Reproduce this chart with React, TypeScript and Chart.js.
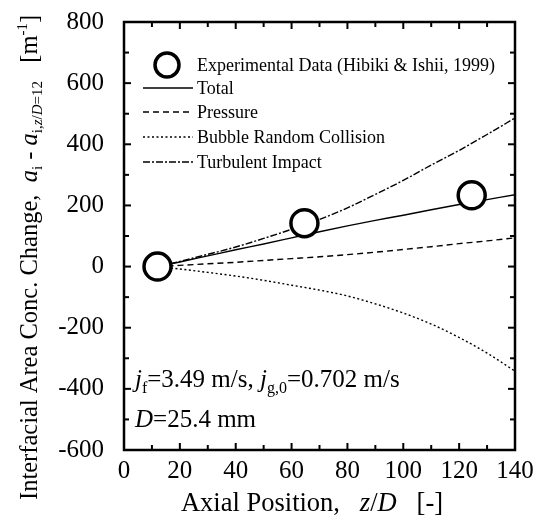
import React, { useEffect, useRef } from "react";
import { Chart, registerables } from "chart.js";

Chart.register(...registerables);

// ---- data ----
const zPositions = [12, 20, 30, 40, 50, 60, 70, 80, 90, 100, 110, 120, 130, 140];
const totalChange = [0, 15, 35, 55, 74, 94, 114, 133, 151, 168, 186, 203, 219, 235];
const pressureChange = [0, 4, 9, 14, 20, 26, 32, 39, 47, 56, 65, 75, 84, 94];
const collisionChange = [0, -8, -19, -31, -45, -61, -77, -96, -122, -152, -188, -232, -283, -342];
const turbulentChange = [0, 17, 40, 64, 92, 122, 154, 192, 236, 282, 332, 380, 432, 486];
const expZ = [12, 64.6, 124.5];
const expChange = [0, 142, 233];

const xTickLabels = [0, 20, 40, 60, 80, 100, 120, 140];
const yTickLabels = [-600, -400, -200, 0, 200, 400, 600, 800];
const xTickMarks = [0, 10, 20, 30, 40, 50, 60, 70, 80, 90, 100, 110, 120, 130, 140];
const yTickMarks = [-600, -500, -400, -300, -200, -100, 0, 100, 200, 300, 400, 500, 600, 700, 800];

const legendLabels = [
  "Experimental Data (Hibiki & Ishii, 1999)",
  "Total",
  "Pressure",
  "Bubble Random Collision",
  "Turbulent Impact",
];

const SERIF = "'Liberation Serif', 'Times New Roman', serif";

const DASH_PRESSURE = [6, 4];
const DASH_COLLISION = [2, 2.5];
const DASH_TURB = [7, 2, 2, 2];

type Seg = { t: string; it?: boolean; sub?: boolean; sup?: boolean };

function segFont(s: Seg, base: number) {
  const size = s.sub || s.sup ? Math.round(base * 0.62) : base;
  return `${s.it ? "italic " : ""}${size}px ${SERIF}`;
}

function richWidth(ctx: CanvasRenderingContext2D, segs: Seg[], base: number) {
  let w = 0;
  for (const s of segs) {
    ctx.font = segFont(s, base);
    w += ctx.measureText(s.t).width;
  }
  return w;
}

function drawRich(ctx: CanvasRenderingContext2D, segs: Seg[], x: number, y: number, base: number) {
  let cx = x;
  ctx.textBaseline = "alphabetic";
  ctx.textAlign = "left";
  for (const s of segs) {
    ctx.font = segFont(s, base);
    const dy = s.sub ? base * 0.22 : s.sup ? -base * 0.42 : 0;
    ctx.fillText(s.t, cx, y + dy);
    cx += ctx.measureText(s.t).width;
  }
}

const yTitle: Seg[] = [
  { t: "Interfacial Area Conc. Change,  " },
  { t: "a", it: true },
  { t: "i", sub: true },
  { t: " - " },
  { t: "a", it: true },
  { t: "i,", sub: true },
  { t: "z", sub: true, it: true },
  { t: "/", sub: true },
  { t: "D", sub: true, it: true },
  { t: "=12", sub: true },
  { t: "   [m" },
  { t: "-1", sup: true },
  { t: "]" },
];

const xTitle: Seg[] = [
  { t: "Axial Position,   " },
  { t: "z", it: true },
  { t: "/" },
  { t: "D", it: true },
  { t: "   [-]" },
];

const note1: Seg[] = [
  { t: "j", it: true },
  { t: "f", sub: true },
  { t: "=3.49 m/s, " },
  { t: "j", it: true },
  { t: "g,0", sub: true },
  { t: "=0.702 m/s" },
];
const note2: Seg[] = [{ t: "D", it: true }, { t: "=25.4 mm" }];

const decorPlugin = {
  id: "decor",
  afterDraw(chart: any) {
    const { ctx, chartArea: a, scales } = chart;
    const xs = scales.x;
    const ys = scales.y;
    ctx.save();
    ctx.fillStyle = "#000";
    ctx.strokeStyle = "#000";

    // frame
    ctx.lineWidth = 2.5;
    ctx.setLineDash([]);
    ctx.strokeRect(a.left, a.top, a.right - a.left, a.bottom - a.top);

    // inward ticks on all four sides
    ctx.lineWidth = 2;
    const seg = (x1: number, y1: number, x2: number, y2: number) => {
      ctx.beginPath();
      ctx.moveTo(x1, y1);
      ctx.lineTo(x2, y2);
      ctx.stroke();
    };
    for (const v of xTickMarks) {
      const px = xs.getPixelForValue(v);
      const len = xTickLabels.includes(v) ? 7 : 5;
      seg(px, a.bottom, px, a.bottom - len);
      seg(px, a.top, px, a.top + len);
    }
    for (const v of yTickMarks) {
      const py = ys.getPixelForValue(v);
      const len = yTickLabels.includes(v) ? 7 : 5;
      seg(a.left, py, a.left + len, py);
      seg(a.right, py, a.right - len, py);
    }

    // legend
    const lx1 = 143;
    const lx2 = 193;
    const tx = 197;
    const rows = [65, 88, 112, 137, 162];
    ctx.font = `18px ${SERIF}`;
    ctx.textBaseline = "middle";
    ctx.textAlign = "left";
    ctx.lineWidth = 3.5;
    ctx.beginPath();
    ctx.arc(167, rows[0], 12, 0, Math.PI * 2);
    ctx.fillStyle = "#fff";
    ctx.fill();
    ctx.stroke();
    ctx.fillStyle = "#000";
    ctx.fillText(legendLabels[0], tx, rows[0] + 1);
    const dashes = [[], DASH_PRESSURE, DASH_COLLISION, DASH_TURB];
    for (let i = 1; i < 5; i++) {
      ctx.lineWidth = 1.4;
      ctx.setLineDash(dashes[i - 1]);
      seg(lx1, rows[i], lx2, rows[i]);
      ctx.setLineDash([]);
      ctx.fillText(legendLabels[i], tx, rows[i] + 1);
    }

    // annotation
    drawRich(ctx, note1, 135, 387, 25);
    drawRich(ctx, note2, 135, 427, 25);

    // x title
    const xw = richWidth(ctx, xTitle, 26.5);
    drawRich(ctx, xTitle, 312 - xw / 2, 511, 26.5);

    // y title (rotated)
    ctx.save();
    ctx.translate(37, 500);
    ctx.rotate(-Math.PI / 2);
    drawRich(ctx, yTitle, 0, 0, 24.5);
    ctx.restore();

    ctx.restore();
  },
};

function toPoints(xs: number[], ys: number[]) {
  return xs.map((x, i) => ({ x, y: ys[i] }));
}

export default function App() {
  const ref = useRef<HTMLCanvasElement>(null);
  useEffect(() => {
    document.body.style.margin = "0";
    const canvas = ref.current!;
    const lineBase = {
      type: "line" as const,
      pointRadius: 0,
      borderColor: "#000",
      borderWidth: 1.4,
      fill: false,
      cubicInterpolationMode: "monotone" as const,
    };
    const chart = new Chart(canvas, {
      type: "line",
      data: {
        datasets: [
          {
            type: "scatter",
            label: legendLabels[0],
            data: toPoints(expZ, expChange),
            pointRadius: 13.5,
            pointBorderWidth: 3.5,
            pointBackgroundColor: "#fff",
            pointBorderColor: "#000",
            showLine: false,
            clip: false,
          } as any,
          { ...lineBase, label: legendLabels[1], data: toPoints(zPositions, totalChange) },
          { ...lineBase, label: legendLabels[2], data: toPoints(zPositions, pressureChange), borderDash: DASH_PRESSURE },
          { ...lineBase, label: legendLabels[3], data: toPoints(zPositions, collisionChange), borderDash: DASH_COLLISION },
          { ...lineBase, label: legendLabels[4], data: toPoints(zPositions, turbulentChange), borderDash: DASH_TURB },
        ],
      },
      options: {
        animation: false,
        responsive: true,
        maintainAspectRatio: false,
        layout: { padding: { left: 0, top: 22, right: 24, bottom: 0 } },
        plugins: { legend: { display: false }, tooltip: { enabled: false } },
        scales: {
          x: {
            type: "linear",
            min: 0,
            max: 140,
            afterBuildTicks: (s: any) => {
              s.ticks = xTickLabels.map((v) => ({ value: v }));
            },
            afterFit: (s: any) => {
              s.height = 72;
              s.paddingLeft = 0;
              s.paddingRight = 0;
            },
            grid: { display: false, drawTicks: false },
            border: { display: false },
            ticks: {
              color: "#000",
              padding: 6,
              maxRotation: 0,
              autoSkip: false,
              font: { family: SERIF, size: 25 },
            },
          },
          y: {
            type: "linear",
            min: -600,
            max: 800,
            afterBuildTicks: (s: any) => {
              s.ticks = yTickLabels.map((v) => ({ value: v }));
            },
            afterFit: (s: any) => {
              s.width = 124;
              s.paddingTop = 0;
              s.paddingBottom = 0;
            },
            grid: { display: false, drawTicks: false },
            border: { display: false },
            ticks: {
              color: "#000",
              padding: 20,
              autoSkip: false,
              font: { family: SERIF, size: 25 },
            },
          },
        },
      },
      plugins: [decorPlugin],
    });
    return () => chart.destroy();
  }, []);
  return (
    <div style={{ position: "relative", width: 539, height: 522 }}>
      <canvas ref={ref} />
    </div>
  );
}
